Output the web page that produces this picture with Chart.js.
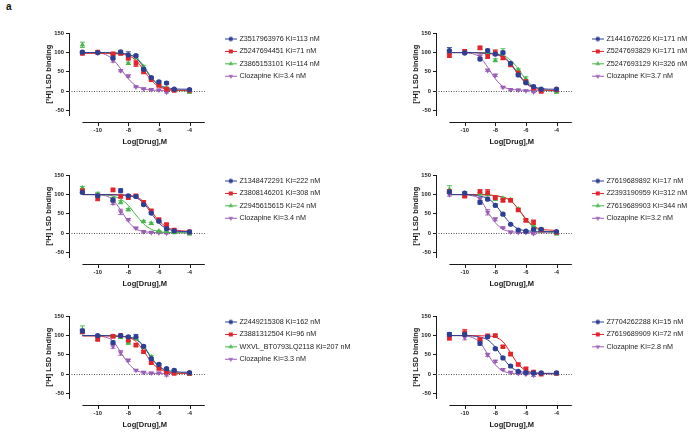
<!DOCTYPE html>
<html><head><meta charset="utf-8">
<script src="https://cdn.jsdelivr.net/npm/chart.js@4.4.1/dist/chart.umd.min.js"></script>
<style>
html,body{margin:0;padding:0;background:#fff;}
body{width:700px;height:438px;position:relative;overflow:hidden;}
canvas{position:absolute;}
#tag{position:absolute;left:6px;top:1px;font:bold 10px "Liberation Sans",Arial,sans-serif;color:#111;}
</style></head><body>
<div id="tag">a</div>
<canvas id="c1" width="350" height="150" style="left:0;top:0"></canvas>
<canvas id="c2" width="350" height="150" style="left:367px;top:0"></canvas>
<canvas id="c3" width="350" height="150" style="left:0;top:141.7px"></canvas>
<canvas id="c4" width="350" height="150" style="left:367px;top:141.7px"></canvas>
<canvas id="c5" width="350" height="150" style="left:0;top:282.7px"></canvas>
<canvas id="c6" width="350" height="150" style="left:367px;top:282.7px"></canvas>
<script>
// ---------- shared axes ----------
const DOSES   = [-11,-10,-9,-8.5,-8,-7.5,-7,-6.5,-6,-5.5,-5,-4];
const FIT_X   = [-11,-10.5,-10,-9.5,-9,-8.5,-8,-7.5,-7,-6.5,-6,-5.5,-5,-4.5,-4];
const X_TICKS = [-10,-8,-6,-4];
const Y_TICKS = [-50,0,50,100,150];
const X_AXIS_SPAN = [-11,-3];

// ---------- panel 1 ----------
const p1Names = ['Z3517963976 Ki=113 nM','Z5247694451 Ki=71 nM','Z3865153101 Ki=114 nM','Clozapine Ki=3.4 nM'];
const p1Blue  = [101,100,86,102,94,92,57,35,24,21,5,4];
const p1Red   = [98,101,97,98,85,72,50,30,15,5,2,2];
const p1Green = [120,100,95,97,72,88,62,33,15,8,3,-3];
const p1Clz   = [100,99,79,53,39,11,6,4,3,-3,null,null];
const p1ErrBlue  = [3,2,3,3,8,3,3,3,3,3,2,2];
const p1ErrRed   = [2,2,2,2,3,8,4,3,2,2,2,2];
const p1ErrGreen = [7,2,3,3,3,4,5,3,2,2,2,2];
const p1ErrClz   = [2,2,4,3,3,2,2,2,2,2,0,0];
const p1FitBlue  = [100,100,100,100,99,98,95,86,63,35,16,9,6,5,5];
const p1FitRed   = [98,98,98,98,97,96,92,80,55,28,12,5,3,2,2];
const p1FitGreen = [100,100,100,100,99,98,95,87,66,36,15,6,2,1,0];
const p1FitClz   = [100,100,99,95,82,58,32,14,6,3,2,2,2,2,2];

// ---------- panel 2 ----------
const p2Names = ['Z1441676226 Ki=171 nM','Z5247693829 Ki=171 nM','Z5247693129 Ki=326 nM','Clozapine Ki=3.7 nM'];
const p2Blue  = [105,99,83,105,96,100,72,42,22,12,5,5];
const p2Red   = [92,103,112,90,100,86,68,47,25,8,-1,3];
const p2Green = [103,100,112,98,80,100,70,55,32,10,3,-3];
const p2Clz   = [100,99,90,54,41,10,4,3,1,-2,null,null];
const p2ErrBlue  = [8,2,4,4,4,4,3,3,3,3,2,2];
const p2ErrRed   = [4,3,3,5,7,4,3,3,3,3,2,2];
const p2ErrGreen = [4,2,3,3,4,10,3,3,5,3,2,2];
const p2ErrClz   = [2,2,4,3,3,2,2,2,2,2,0,0];
const p2FitBlue  = [100,100,100,100,99,98,96,90,72,45,22,11,7,5,5];
const p2FitRed   = [100,100,100,100,99,98,95,88,70,43,20,8,4,2,1];
const p2FitGreen = [100,100,100,100,99.5,99,97,93,80,58,30,12,4,1,0];
const p2FitClz   = [100,100,99.5,97,88,62,32,12,5,3,2,2,2,2,2];

// ---------- panel 3 ----------
const p3Names = ['Z1348472291 Ki=222 nM','Z3808146201 Ki=308 nM','Z2945615615 Ki=24 nM','Clozapine Ki=3.4 nM'];
const p3Blue  = [106,97,86,110,97,95,74,52,31,12,6,3];
const p3Red   = [110,90,112,95,92,97,80,58,35,22,8,3];
const p3Green = [117,101,88,80,61,null,30,25,5,4,1,-2];
const p3Clz   = [108,100,78,55,35,13,4,2,1,0,null,null];
const p3ErrBlue  = [4,3,5,5,3,3,3,3,3,3,2,2];
const p3ErrRed   = [5,6,3,3,3,3,3,3,3,3,2,2];
const p3ErrGreen = [4,5,3,4,3,0,3,3,2,2,2,2];
const p3ErrClz   = [3,3,4,7,3,2,2,2,2,2,0,0];
const p3FitBlue  = [100,100,100,100,99,99,97,92,78,52,26,12,6,4,4];
const p3FitRed   = [100,100,100,100,100,99,98,94,82,57,32,16,9,6,5];
const p3FitGreen = [100,100,100,99,96,88,72,47,24,10,4,2,1,1,1];
const p3FitClz   = [100,100,99,97,86,60,30,11,4,2,1,1,1,1,1];

// ---------- panel 4 ----------
const p4Names = ['Z7619689892 Ki=17 nM','Z2393190959 Ki=312 nM','Z7619689903 Ki=344 nM','Clozapine Ki=3.2 nM'];
const p4Blue  = [107,104,80,88,72,49,23,8,5,10,10,4];
const p4Red   = [108,96,108,105,92,85,85,60,33,28,8,2];
const p4Green = [113,98,102,100,88,90,86,62,33,20,5,-2];
const p4Clz   = [100,100,89,54,36,14,3,2,2,-1,null,null];
const p4ErrBlue  = [4,3,5,3,4,3,2,2,2,3,3,2];
const p4ErrRed   = [4,3,4,8,3,3,3,3,3,6,3,2];
const p4ErrGreen = [10,3,3,3,3,3,4,3,3,3,2,2];
const p4ErrClz   = [4,2,4,7,4,2,2,2,2,3,0,0];
const p4FitBlue  = [100,100,100,99,96,90,74,48,25,11,6,5,4,4,4];
const p4FitRed   = [100,100,100,100,100,99,97,93,84,63,37,18,10,8,7];
const p4FitGreen = [100,100,100,100,100,99,97,93,85,62,35,16,7,3,2];
const p4FitClz   = [100,100,99,97,88,56,27,10,4,2,1,1,1,1,1];

// ---------- panel 5 ----------
const p5Names = ['Z2449215308 Ki=162 nM','Z3881312504 Ki=96 nM','WXVL_BT0793LQ2118 Ki=207 nM','Clozapine Ki=3.3 nM'];
const p5Blue  = [112,100,82,100,97,97,72,40,25,14,10,4];
const p5Red   = [110,90,98,100,88,75,58,30,15,6,2,2];
const p5Green = [115,98,98,95,82,92,70,45,20,10,5,-1];
const p5Clz   = [110,98,72,55,36,10,5,3,3,-2,null,null];
const p5ErrBlue  = [5,3,4,3,3,6,3,3,3,3,3,2];
const p5ErrRed   = [5,3,3,3,4,3,3,3,3,2,2,2];
const p5ErrGreen = [10,3,3,3,5,3,3,3,3,2,2,2];
const p5ErrClz   = [5,3,5,6,3,2,2,2,2,3,0,0];
const p5FitBlue  = [100,100,100,100,99,98,96,90,72,42,20,10,7,5,5];
const p5FitRed   = [99,99,99,99,99,98,95,85,60,32,14,6,3,2,2];
const p5FitGreen = [100,100,100,100,99,98,96,91,74,44,20,8,4,3,2];
const p5FitClz   = [100,100,99,96,86,57,28,10,4,2,2,2,2,2,2];

// ---------- panel 6 ----------
const p6Names = ['Z7704262288 Ki=15 nM','Z7619689909 Ki=72 nM','Clozapine Ki=2.8 nM'];
const p6Blue  = [103,103,80,97,66,42,21,7,4,3,3,3];
const p6Red   = [93,108,90,99,100,71,52,25,14,5,0,2];
const p6Clz   = [100,95,88,50,33,12,5,2,0,-3,null,null];
const p6ErrBlue  = [5,4,5,3,3,3,3,2,2,2,2,2];
const p6ErrRed   = [4,8,3,3,3,3,3,3,3,2,2,2];
const p6ErrClz   = [3,6,6,4,3,2,2,2,2,3,0,0];
const p6FitBlue  = [100,100,100,99,96,89,70,42,19,8,4,3,2,2,2];
const p6FitRed   = [100,100,100,100,99.5,99,96,84,55,25,10,4,2,1,1];
const p6FitClz   = [100,100,99,95,82,52,24,8,3,1,1,1,1,1,1];

// ---------- styles ----------
const FONT = '"Liberation Sans", Arial, sans-serif';
const INK = '#1a1a1a';
const STYLE = {
  blue:   {color:'#2c3f95', shape:'circle',   rot:0,   r:2.6},
  red:    {color:'#e3242b', shape:'rect',     rot:0,   r:3.3},
  green:  {color:'#45b649', shape:'triangle', rot:0,   r:3.1},
  purple: {color:'#9b5db5', shape:'triangle', rot:180, r:3.1}
};
const PLOT_RIGHT = 220.6;   // canvas x where the legend column begins
const Y_AXIS_X   = 69;      // canvas x of the y axis line
const PAD_LEFT   = -400;    // widens the layout budget so the legend box is not clamped

function legendIcon(st){
  const c = document.createElement('canvas');
  c.width = 12; c.height = 7;
  const g = c.getContext('2d');
  g.strokeStyle = st.color; g.lineWidth = 1;
  g.beginPath(); g.moveTo(0,3.5); g.lineTo(12,3.5); g.stroke();
  g.fillStyle = st.color;
  Chart.helpers.drawPoint(g, {pointStyle:st.shape, rotation:st.rot, radius:st.r*0.85, borderWidth:0}, 6, 3.5);
  return c;
}

const gpAxes = {
  id: 'gpAxes',
  beforeDatasetsDraw(chart){
    const {ctx, chartArea, scales:{x, y}} = chart;
    const py = Math.round(y.getPixelForValue(0)) + 0.5;
    ctx.save();
    ctx.strokeStyle = '#555'; ctx.lineWidth = 1; ctx.setLineDash([1,1.5]);
    ctx.beginPath(); ctx.moveTo(chartArea.left, py); ctx.lineTo(x.getPixelForValue(X_AXIS_SPAN[1]), py); ctx.stroke();
    ctx.setLineDash([]);
    // error bars (SEM), drawn under the markers
    chart.data.datasets.forEach(ds => {
      if (!ds.errorBars) return;
      ctx.strokeStyle = ds.borderColor; ctx.lineWidth = 0.9;
      ctx.beginPath();
      ds.data.forEach((p, j) => {
        const e = ds.errorBars[j];
        if (!e) return;
        const px = x.getPixelForValue(p.x);
        const yt = y.getPixelForValue(p.y + e), yb = y.getPixelForValue(p.y - e);
        ctx.moveTo(px, yt); ctx.lineTo(px, yb);
        ctx.moveTo(px - 2.5, yt); ctx.lineTo(px + 2.5, yt);
        ctx.moveTo(px - 2.5, yb); ctx.lineTo(px + 2.5, yb);
      });
      ctx.stroke();
    });
    ctx.restore();
  },
  afterDraw(chart){
    const {ctx, scales:{x, y}} = chart;
    const py = Math.round(y.getPixelForValue(-81)) + 0.5;
    ctx.save();
    ctx.strokeStyle = INK; ctx.lineWidth = 1;
    ctx.beginPath();
    ctx.moveTo(x.getPixelForValue(X_AXIS_SPAN[0]), py);
    ctx.lineTo(x.getPixelForValue(X_AXIS_SPAN[1]), py);
    X_TICKS.forEach(v => { const px = Math.round(x.getPixelForValue(v)) + 0.5; ctx.moveTo(px, py); ctx.lineTo(px, py + 3.5); });
    ctx.stroke();
    ctx.restore();
  }
};

function makePanel(id, names, points, errs, fits, keys){
  const n = names.length;
  const icons = keys.map(k => legendIcon(STYLE[k]));
  const datasets = [];
  points.forEach((vals, i) => {
    const st = STYLE[keys[i]];
    const keep = DOSES.map((d, j) => j).filter(j => vals[j] !== null);
    datasets.push({
      label: names[i],
      data: keep.map(j => ({x:DOSES[j], y:vals[j]})),
      errorBars: keep.map(j => errs[i][j]),
      showLine: false,
      pointStyle: st.shape, pointRotation: st.rot, pointRadius: st.r,
      pointBackgroundColor: st.color, pointBorderColor: st.color, pointBorderWidth: 0,
      borderColor: st.color, backgroundColor: st.color,
      order: 0
    });
  });
  fits.forEach((vals, i) => {
    const st = STYLE[keys[i]];
    datasets.push({
      label: names[i] + ' fit',
      data: FIT_X.map((d, j) => ({x:d, y:vals[j]})),
      showLine: true, pointRadius: 0, borderWidth: 1,
      borderColor: st.color, backgroundColor: st.color,
      cubicInterpolationMode: 'monotone', fill: false,
      order: 1
    });
  });
  const chart = new Chart(document.getElementById(id), {
    type: 'line',
    data: { datasets },
    plugins: [gpAxes],
    options: {
      responsive: false, animation: false, devicePixelRatio: 1, events: [],
      layout: { padding: {left:PAD_LEFT, top:33.3, right:0, bottom:0} },
      plugins: {
        tooltip: {enabled:false},
        legend: {
          display: true, position: 'right', align: 'start',
          title: {display:true, text:'', font:{size:1}, padding:{top:-2.15, bottom:-2.15}},
          labels: {
            usePointStyle: true, pointStyleWidth: 10, padding: 5.2, color: '#222',
            font: {family: FONT, size: 7.2},
            generateLabels(chart){
              const items = Chart.defaults.plugins.legend.labels.generateLabels(chart);
              return items.filter(it => it.datasetIndex < n)
                          .map(it => Object.assign(it, {pointStyle: icons[it.datasetIndex], rotation: 0}));
            }
          }
        }
      },
      scales: {
        x: {
          type: 'linear', min: -11.876, max: -1.968,
          afterBuildTicks: s => { s.ticks = X_TICKS.map(v => ({value:v})); },
          afterFit: s => { s.height = 35; },
          grid: {display:false, drawTicks:false}, border: {display:false},
          ticks: {color: INK, font:{family:FONT, size:5.8, weight:'bold'}, padding: 12.2},
          title: {display:true, text:'Log[Drug],M', color: INK, font:{family:FONT, size:7.5, weight:'bold'}, padding:{top:0, bottom:3.2}}
        },
        y: {
          type: 'linear', min: -62, max: 150,
          afterBuildTicks: s => { s.ticks = Y_TICKS.map(v => ({value:v})); },
          afterFit: s => { s.width = Y_AXIS_X - PAD_LEFT; },
          grid: {drawOnChartArea:false, drawTicks:true, tickLength:3, color: INK, lineWidth:1},
          border: {display:true, color: INK, width:1},
          ticks: {color: INK, font:{family:FONT, size:5.8, weight:'bold'}, padding: 2},
          title: {display:true, text:'[³H] LSD binding', color: INK, font:{family:FONT, size:7.5, weight:'bold'},
                  padding:{top:44.8 - PAD_LEFT, bottom:0}}
        }
      }
    }
  });
  // place the legend column at a fixed x: right padding = canvas width - plot right - legend width
  chart.options.layout.padding.right = chart.width - PLOT_RIGHT - chart.legend.width;
  chart.update('none');
}

const K4 = ['blue','red','green','purple'];
makePanel('c1', p1Names, [p1Blue,p1Red,p1Green,p1Clz], [p1ErrBlue,p1ErrRed,p1ErrGreen,p1ErrClz], [p1FitBlue,p1FitRed,p1FitGreen,p1FitClz], K4);
makePanel('c2', p2Names, [p2Blue,p2Red,p2Green,p2Clz], [p2ErrBlue,p2ErrRed,p2ErrGreen,p2ErrClz], [p2FitBlue,p2FitRed,p2FitGreen,p2FitClz], K4);
makePanel('c3', p3Names, [p3Blue,p3Red,p3Green,p3Clz], [p3ErrBlue,p3ErrRed,p3ErrGreen,p3ErrClz], [p3FitBlue,p3FitRed,p3FitGreen,p3FitClz], K4);
makePanel('c4', p4Names, [p4Blue,p4Red,p4Green,p4Clz], [p4ErrBlue,p4ErrRed,p4ErrGreen,p4ErrClz], [p4FitBlue,p4FitRed,p4FitGreen,p4FitClz], K4);
makePanel('c5', p5Names, [p5Blue,p5Red,p5Green,p5Clz], [p5ErrBlue,p5ErrRed,p5ErrGreen,p5ErrClz], [p5FitBlue,p5FitRed,p5FitGreen,p5FitClz], K4);
makePanel('c6', p6Names, [p6Blue,p6Red,p6Clz], [p6ErrBlue,p6ErrRed,p6ErrClz], [p6FitBlue,p6FitRed,p6FitClz], ['blue','red','purple']);
</script>
</body></html>
